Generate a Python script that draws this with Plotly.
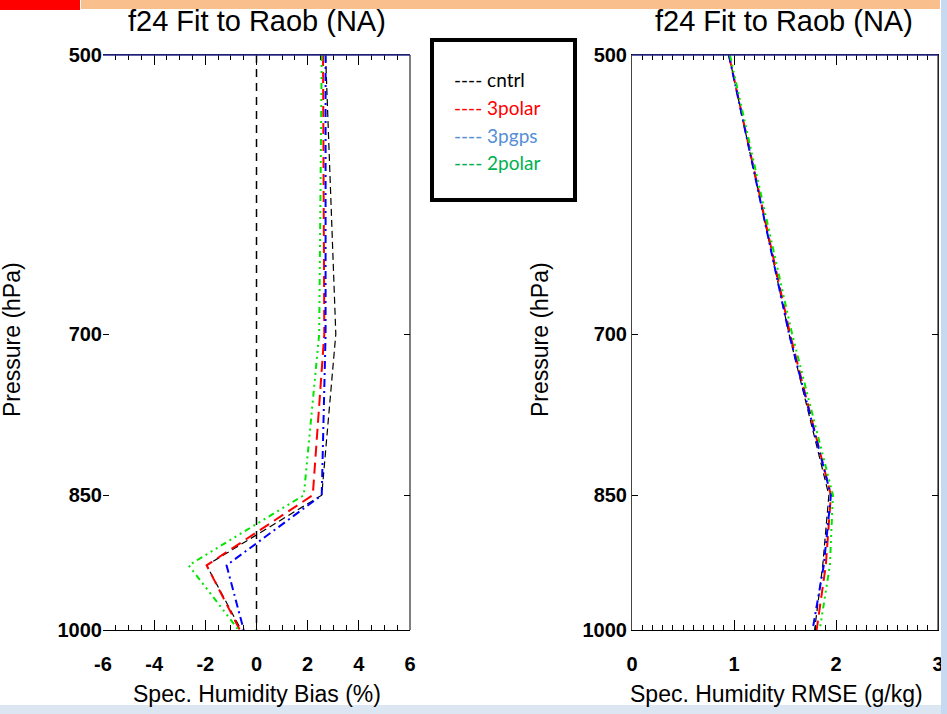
import plotly.graph_objects as go

# ---------------- data ----------------
levels = [500, 700, 850, 925, 1000]
series_names = ["cntrl", "3polar", "3pgps", "2polar"]

bias_cntrl = [2.7, 3.1, 2.55, -1.95, -0.6]
bias_3polar = [2.6, 2.65, 2.2, -1.95, -0.65]
bias_3pgps = [2.7, 2.7, 2.55, -1.17, -0.5]
bias_2polar = [2.55, 2.45, 1.85, -2.65, -0.7]

rmse_cntrl = [0.95, 1.54, 1.93, 1.87, 1.79]
rmse_3polar = [0.95, 1.55, 1.95, 1.90, 1.81]
rmse_3pgps = [0.95, 1.54, 1.95, 1.88, 1.77]
rmse_2polar = [0.96, 1.57, 1.97, 1.94, 1.84]

p_ticks = [500, 700, 850, 1000]
bias_ticks = [-6, -4, -2, 0, 2, 4, 6]
bias_tick_labels = ["-6", "-4", "-2", "0", "2", "4", "6"]
rmse_ticks = [0, 1, 2, 3]
rmse_tick_labels = ["0", "1", "2", "3"]
zero_line_x = [0, 0]
zero_line_p = [500, 1000]

title_text = "f24 Fit to Raob (NA)"
# ---------------- styles ----------------
W, H = 947, 714
line_colors = ["#000000", "#ff0000", "#0000ff", "#00e600"]
line_widths = [1.2, 2.0, 2.0, 2.0]
line_dashes = ["7px,4px", "11px,6px", "8px,4px,2px,4px", "6px,4px,2px,4px,2px,4px,2px,4px"]
legend_colors = ["#000000", "#ff0000", "#558ed5", "#00b050"]

bias_all = [bias_cntrl, bias_3polar, bias_3pgps, bias_2polar]
rmse_all = [rmse_cntrl, rmse_3polar, rmse_3pgps, rmse_2polar]

fig = go.Figure()

# zero line in bias panel
fig.add_trace(go.Scatter(x=zero_line_x, y=zero_line_p, mode="lines",
                         line=dict(color="black", width=1.5, dash="8px,6px"),
                         xaxis="x", yaxis="y", showlegend=False, hoverinfo="skip"))

for i, name in enumerate(series_names):
    fig.add_trace(go.Scatter(x=bias_all[i], y=levels, mode="lines", name=name,
                             line=dict(color=line_colors[i], width=line_widths[i], dash=line_dashes[i]),
                             xaxis="x", yaxis="y", showlegend=False))
    fig.add_trace(go.Scatter(x=rmse_all[i], y=levels, mode="lines", name=name,
                             line=dict(color=line_colors[i], width=line_widths[i], dash=line_dashes[i]),
                             xaxis="x2", yaxis="y2", showlegend=False))

def px_x(p):
    return p / W

def px_y(p):
    return 1 - p / H

FONT = "Liberation Sans, Arial, sans-serif"

left_dom = [px_x(103), px_x(410)]
right_dom = [px_x(632), px_x(938)]
y_dom = [px_y(630), px_y(55)]

tickfont = dict(family=FONT, size=20, color="black", weight="bold")

xaxis_common = dict(
    showline=True, linecolor="black", linewidth=1, mirror="ticks",
    ticks="inside", ticklen=10, tickcolor="black", tickwidth=1,
    showgrid=False, zeroline=False, automargin=False,
    tickfont=tickfont,
    ticklabelstandoff=16,
)
yaxis_common = dict(
    type="log", range=[3, 2.69897], domain=y_dom,
    tickvals=p_ticks, ticktext=[str(v) for v in p_ticks],
    ticks="inside", ticklen=6, tickcolor="black", mirror="ticks",
    showgrid=False, zeroline=False, automargin=False,
    tickfont=tickfont,
)

fig.update_layout(
    width=W, height=H,
    margin=dict(l=0, r=0, t=0, b=0, autoexpand=False),
    paper_bgcolor="white", plot_bgcolor="white",
    showlegend=False,
    xaxis=dict(domain=left_dom, anchor="y", range=[-6, 6], tickvals=bias_ticks,
               ticktext=bias_tick_labels,
               minor=dict(dtick=0.5, ticks="inside", ticklen=5, tickcolor="black"),
               **xaxis_common),
    yaxis=dict(anchor="x", showline=False, **yaxis_common),
    xaxis2=dict(domain=right_dom, anchor="y2", range=[0, 3], tickvals=rmse_ticks,
                ticktext=rmse_tick_labels,
                minor=dict(dtick=0.1, ticks="inside", ticklen=5, tickcolor="black"),
                **xaxis_common),
    yaxis2=dict(anchor="x2", showline=True, linecolor="#444444", linewidth=1, **yaxis_common),
)

shapes = []
# right borders of both panels
for xr, yr in [("x domain", "y domain"), ("x2 domain", "y2 domain")]:
    shapes.append(dict(type="line", xref=xr, yref=yr, x0=1, x1=1, y0=0, y1=1,
                       line=dict(color="black", width=1)))
    shapes.append(dict(type="line", xref=xr, yref=yr, x0=0, x1=1, y0=1, y1=1,
                       line=dict(color="#2a2a8f", width=1.5)))
# top banner
shapes.append(dict(type="rect", xref="paper", yref="paper", x0=px_x(81), x1=px_x(940),
                   y0=px_y(9), y1=1, fillcolor="#f9c08e", line=dict(width=0), layer="below"))
shapes.append(dict(type="rect", xref="paper", yref="paper", x0=0, x1=px_x(80),
                   y0=px_y(10), y1=1, fillcolor="#ff0000", line=dict(width=0), layer="below"))
# right strip & bottom line
shapes.append(dict(type="rect", xref="paper", yref="paper", x0=px_x(941), x1=1,
                   y0=0, y1=1, fillcolor="#c6d9f1", line=dict(width=0), layer="above"))
shapes.append(dict(type="rect", xref="paper", yref="paper", x0=0, x1=1,
                   y0=0, y1=px_y(705), fillcolor="#dce6f2", line=dict(width=0), layer="below"))
# legend box
shapes.append(dict(type="rect", xref="paper", yref="paper", x0=px_x(432), x1=px_x(575),
                   y0=px_y(200), y1=px_y(40), fillcolor="white",
                   line=dict(color="black", width=4)))
fig.update_layout(shapes=shapes)

annotations = []
for cx in [257, 784]:
    annotations.append(dict(text=title_text, x=px_x(cx), y=px_y(21), xref="paper", yref="paper",
                            showarrow=False, xanchor="center", yanchor="middle",
                            font=dict(family=FONT, size=29, color="black")))
annotations.append(dict(text="Spec. Humidity Bias (%)", x=px_x(257), y=px_y(694),
                        xref="paper", yref="paper", showarrow=False,
                        xanchor="center", yanchor="middle",
                        font=dict(family=FONT, size=23, color="black")))
annotations.append(dict(text="Spec. Humidity RMSE (g/kg)", x=px_x(776), y=px_y(694),
                        xref="paper", yref="paper", showarrow=False,
                        xanchor="center", yanchor="middle",
                        font=dict(family=FONT, size=23, color="black")))
for cx in [12, 540]:
    annotations.append(dict(text="Pressure (hPa)", x=px_x(cx), y=px_y(340),
                            xref="paper", yref="paper", showarrow=False, textangle=-90,
                            xanchor="center", yanchor="middle",
                            font=dict(family=FONT, size=23, color="black")))
leg_y = [79, 107, 135, 163]
for i, name in enumerate(series_names):
    annotations.append(dict(text="---- " + name, x=px_x(452), y=px_y(leg_y[i]),
                            xref="paper", yref="paper", showarrow=False,
                            xanchor="left", yanchor="middle",
                            font=dict(family="Lato, sans-serif", size=19, color=legend_colors[i])))
fig.update_layout(annotations=annotations)

fig.write_html("out.html", config={"displayModeBar": False},
               post_script="document.body.style.margin='0';document.body.style.overflow='hidden';")
